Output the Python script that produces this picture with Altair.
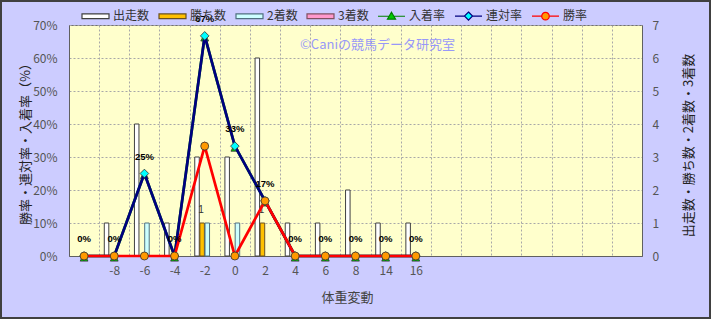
import json
import altair as alt
import pandas as pd

# ---------------- data ----------------
categories = ["", "-8", "-6", "-4", "-2", "0", "2", "4", "6", "8", "14", "16"]
empty_slots = 7
runs    = [0, 1, 4, 1, 3, 3, 6, 1, 1, 2, 1, 1]   # 出走数
wins    = [0, 0, 0, 0, 1, 0, 1, 0, 0, 0, 0, 0]   # 勝ち数
seconds = [0, 0, 1, 0, 1, 1, 0, 0, 0, 0, 0, 0]   # 2着数
thirds  = [0, 0, 0, 0, 0, 0, 0, 0, 0, 0, 0, 0]   # 3着数
place_rate = [0, 0, 25, 0, 66.7, 33.3, 16.7, 0, 0, 0, 0, 0]  # 入着率 (%)
ren_rate   = [0, 0, 25, 0, 66.7, 33.3, 16.7, 0, 0, 0, 0, 0]  # 連対率 (%)
win_rate   = [0, 0, 0, 0, 33.3, 0, 16.7, 0, 0, 0, 0, 0]     # 勝率 (%)

bar_series = ["出走数", "勝ち数", "2着数", "3着数"]
line_series = ["入着率", "連対率", "勝率"]
all_series = bar_series + line_series
pct_ticks = [0, 10, 20, 30, 40, 50, 60, 70]
count_ticks = [0, 1, 2, 3, 4, 5, 6, 7]
tick_labels = categories + [""] * empty_slots
watermark = "©Caniの競馬データ研究室"

# ---------------- styles ----------------
FONT = "Noto Sans CJK JP"
fill_colors = ["#FFFFFF", "#FFC000", "#CCFFFF", "#FF99CC", "#00CC00", "#00FFFF", "#FF9900"]
stroke_colors = ["#404040", "#6A5020", "#507080", "#805060", "#008000", "#000080", "#FF0000"]
marker_shapes = {"入着率": "M0,-0.45L0.65,0.85L-0.65,0.85Z", "連対率": "diamond", "勝率": "circle"}
marker_sizes = {"入着率": 144, "連対率": 75, "勝率": 64}

bar_path = "M-1,-0.17H1V0.17H-1Z"
tri_path = "M-1,0H-0.2M0.2,0H1M0,-0.3L0.3,0.22L-0.3,0.22Z"
dia_path = "M-1,0H-0.3M0.3,0H1M0,-0.3L0.3,0L0,0.3L-0.3,0Z"
cir_path = "M-1,0H-0.28M0.28,0H1M-0.28,0A0.28,0.28 0 1,0 0.28,0A0.28,0.28 0 1,0 -0.28,0Z"
legend_paths = [bar_path] * 4 + [tri_path, dia_path, cir_path]

n_slots = len(tick_labels)
rows_bar = []
for i in range(len(categories)):
    for s, vals in zip(bar_series, [runs, wins, seconds, thirds]):
        if vals[i] > 0:
            rows_bar.append({"idx": i, "series": s, "value": vals[i]})
bar_df = pd.DataFrame(rows_bar)

rows_rate = []
for i in range(len(categories)):
    for s, vals in zip(line_series, [place_rate, ren_rate, win_rate]):
        rows_rate.append({"idx": i, "series": s, "rate": vals[i]})
rate_df = pd.DataFrame(rows_rate)


def build(fancy):
    fill_scale = alt.Scale(domain=all_series, range=fill_colors)
    stroke_scale = alt.Scale(domain=all_series, range=stroke_colors)

    x_enc = alt.X(
        "idx:O",
        scale=alt.Scale(domain=list(range(n_slots)), paddingInner=0, paddingOuter=0),
        axis=alt.Axis(
            labelExpr=json.dumps(tick_labels) + "[datum.value]",
            tickBand="extent", grid=True, ticks=False, tickSize=0,
            labelAngle=0, labelPadding=9,
            titleX=278, titleY=41, titleAlign="center", titleBaseline="middle",
            titleColor="#444", titleFontSize=13,
        ),
        title="体重変動",
    )
    y_left = alt.Y(
        "rate:Q",
        scale=alt.Scale(domain=[0, 70], nice=False),
        axis=alt.Axis(
            orient="left", values=pct_ticks, labelExpr="datum.value + '%'",
            grid=True, ticks=False, tickSize=0, labelPadding=12,
            titleAngle=270, titleX=-44, titleY=115.5,
            titleAlign="center", titleBaseline="middle",
        ),
        title="勝率・連対率・入着率（%）",
    )
    y_right = alt.Y(
        "value:Q",
        scale=alt.Scale(domain=[0, 7], nice=False),
        axis=alt.Axis(
            orient="right", values=count_ticks, grid=False, ticks=False, tickSize=0,
            labelPadding=10, titleAngle=270, titleX=46, titleY=120,
            titleAlign="center", titleBaseline="middle",
        ),
        title="出走数・勝ち数・2着数・3着数",
    )

    leg_kw = dict(
        orient="none", legendX=12, legendY=-23.5, direction="horizontal", title=None,
        symbolSize=729, symbolStrokeWidth=1.2, labelFont=FONT, labelFontSize=12,
        labelColor="#333", labelOffset=3, columnPadding=6, padding=0,
    )
    if fancy:
        names = json.dumps(all_series, ensure_ascii=False)
        leg_kw["symbolType"] = {"expr": json.dumps(legend_paths) + "[indexof(" + names + ", datum.value)]"}
        leg_kw["symbolStrokeColor"] = {"expr": json.dumps(stroke_colors) + "[indexof(" + names + ", datum.value)]"}
    else:
        leg_kw["symbolType"] = bar_path
        leg_kw["symbolStrokeColor"] = "#444"
    legend = alt.Legend(**leg_kw)

    xoff = alt.XOffset("series:N", scale=alt.Scale(domain=bar_series, paddingInner=0.12, paddingOuter=1))
    bars = alt.Chart(bar_df).mark_bar(strokeWidth=1).encode(
        x=x_enc,
        xOffset=xoff,
        y=y_right,
        fill=alt.Fill("series:N", scale=fill_scale, legend=legend),
        stroke=alt.Stroke("series:N", scale=stroke_scale, legend=None),
    )
    win_txt = alt.Chart(bar_df).transform_filter(
        alt.datum.series == "勝ち数"
    ).mark_text(dy=-13, dx=-1, fontSize=10, font="Liberation Sans", color="#333").encode(
        x=x_enc,
        xOffset=xoff,
        y=y_right,
        text="value:Q",
    )
    right = alt.layer(bars, win_txt)

    layers = []
    for s in line_series:
        base = alt.Chart(rate_df).transform_filter(alt.datum.series == s)
        layers.append(base.mark_line(strokeWidth=2.7).encode(
            x=x_enc, y=y_left,
            stroke=alt.Stroke("series:N", scale=stroke_scale, legend=None),
        ))
        layers.append(base.mark_point(
            filled=True, shape=marker_shapes[s], size=marker_sizes[s], opacity=1,
        ).encode(
            x=x_enc, y=y_left,
            fill=alt.Fill("series:N", scale=fill_scale, legend=None),
            stroke=alt.value("#303030"), strokeWidth=alt.value(0.8),
        ))
    ren_txt = alt.Chart(rate_df).transform_filter(
        alt.datum.series == "連対率"
    ).transform_calculate(
        label="format(datum.rate, '.0f') + '%'"
    ).mark_text(dy=-17, fontSize=9.5, fontWeight="bold", font="Liberation Sans", color="#000").encode(
        x=x_enc, y=y_left, text="label:N"
    )
    one = pd.DataFrame({"t": [watermark]})
    wm = alt.Chart(one).mark_text(fontSize=13, font=FONT, color="#9898F8").encode(
        x=alt.value(308.5), y=alt.value(20), text="t:N"
    )
    border = alt.Chart(one).mark_rect(filled=False, stroke="#404040", strokeWidth=2).encode(
        x=alt.value(-68), x2=alt.value(641), y=alt.value(-24), y2=alt.value(293)
    )
    left = alt.layer(*layers, ren_txt, wm, border)

    chart = alt.layer(right, left).resolve_scale(y="independent").properties(
        width=573, height=231,
        autosize=alt.AutoSizeParams(type="none"),
        padding={"left": 69, "top": 25, "right": 69, "bottom": 63},
        background="#CCCCFF",
    ).configure_view(
        fill="#FFFFCC", stroke="#707070", strokeWidth=1
    ).configure_axis(
        labelFont=FONT, labelFontSize=12, labelColor="#555",
        titleFont=FONT, titleFontSize=13, titleColor="#222", titleFontWeight="normal",
        domainColor="#606060", gridColor="#A8A8A8", gridDash=[2, 2], gridWidth=1,
    )
    return chart


try:
    chart = build(True)
    chart.to_dict()
except Exception:
    chart = build(False)

chart.save("out.html", embed_options={"renderer": "svg", "actions": False})
